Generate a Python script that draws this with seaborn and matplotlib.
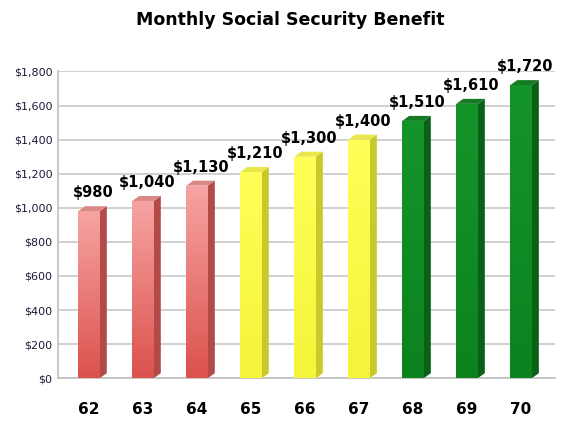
import numpy as np
import pandas as pd
import matplotlib
matplotlib.use("Agg")
import matplotlib.pyplot as plt
import seaborn as sns
from matplotlib.patches import Polygon
from matplotlib.colors import LinearSegmentedColormap

ages = ["62", "63", "64", "65", "66", "67", "68", "69", "70"]
benefits = [980, 1040, 1130, 1210, 1300, 1400, 1510, 1610, 1720]
groups = ["early", "early", "early", "mid", "mid", "mid", "late", "late", "late"]
yticks = [0, 200, 400, 600, 800, 1000, 1200, 1400, 1600, 1800]

front_cols = {"early": ("#f6a4a2", "#dc524d"), "mid": ("#ffff58", "#f4f43a"), "late": ("#14952a", "#0c821f")}
side_cols = {"early": "#b24a47", "mid": "#c9c92c", "late": "#0a6016"}
top_cols = {"early": "#d98886", "mid": "#e8e84a", "late": "#167a22"}

sns.set_theme(style="white")
plt.rcParams["font.family"] = ["DejaVu Sans"]

df = pd.DataFrame({"age": ages, "benefit": benefits, "group": groups})

fig = plt.figure(figsize=(5.8, 4.23), dpi=100)
ax = fig.add_axes([0.10, 0.106, 0.857, 0.725])
sns.barplot(data=df, x="age", y="benefit", hue="group", dodge=False, legend=False,
            palette={k: v[1] for k, v in front_cols.items()}, width=0.40, ax=ax, zorder=3,
            saturation=1)

XL = (-0.574, 8.63)
ax.set_ylim(0, 1800)
ax.set_xlim(*XL)
ax.set_yticks(yticks)
ax.set_yticklabels([f"${v:,}" for v in yticks], fontsize=8, color="#1a1a3a")
ax.set_xticks(range(len(ages)))
ax.set_xticklabels(ages, fontsize=11, fontweight="bold", color="black")
ax.tick_params(axis="x", pad=17, length=0)
ax.tick_params(axis="y", pad=4, length=0)
ax.set_xlabel("")
ax.set_ylabel("")
ax.grid(axis="y", color="#c8c8c8", linewidth=1.2, zorder=0)
for s in ["top", "right"]:
    ax.spines[s].set_visible(False)
ax.spines["left"].set_color("#c0c0c0")
ax.spines["bottom"].set_color("#c0c0c0")

# 3D-like side and top faces derived from each bar patch
fig.canvas.draw()
inv = ax.transData.inverted()
base = ax.transData
dx, dy = 7, 5
for patch, g, v in zip(ax.patches, groups, benefits):
    x0, y0 = patch.get_x(), patch.get_y()
    w, h = patch.get_width(), patch.get_height()
    c0, c1 = front_cols[g]
    cmap = LinearSegmentedColormap.from_list("g", [c1, c0])
    grad = np.linspace(0, 1, 100).reshape(-1, 1)
    im = ax.imshow(grad, extent=(x0, x0 + w, y0, y0 + h), origin="lower", cmap=cmap,
                   aspect="auto", zorder=3.5)
    im.set_clip_path(patch)
    p_bl = base.transform((x0 + w, y0))
    p_tl = base.transform((x0 + w, y0 + h))
    p_l = base.transform((x0, y0 + h))
    pts = [p_bl, p_tl, (p_tl[0] + dx, p_tl[1] + dy), (p_bl[0] + dx, p_bl[1] + dy)]
    ax.add_patch(Polygon(inv.transform(pts), closed=True, facecolor=side_cols[g],
                         edgecolor="none", zorder=3.4))
    tpts = [p_l, p_tl, (p_tl[0] + dx, p_tl[1] + dy), (p_l[0] + dx, p_l[1] + dy)]
    ax.add_patch(Polygon(inv.transform(tpts), closed=True, facecolor=top_cols[g],
                         edgecolor="none", zorder=3.4))
    ax.annotate(f"${v:,}", (x0 + w / 2, y0 + h), xytext=(3, 8), textcoords="offset points",
                ha="center", va="bottom", fontsize=10.5, fontweight="bold", color="black", zorder=5)

ax.set_xlim(*XL)
ax.set_ylim(0, 1800)
fig.suptitle("Monthly Social Security Benefit", x=0.5, y=0.975, fontsize=12.5,
             fontweight="bold", color="black")
fig.savefig("out.png", dpi=100)
